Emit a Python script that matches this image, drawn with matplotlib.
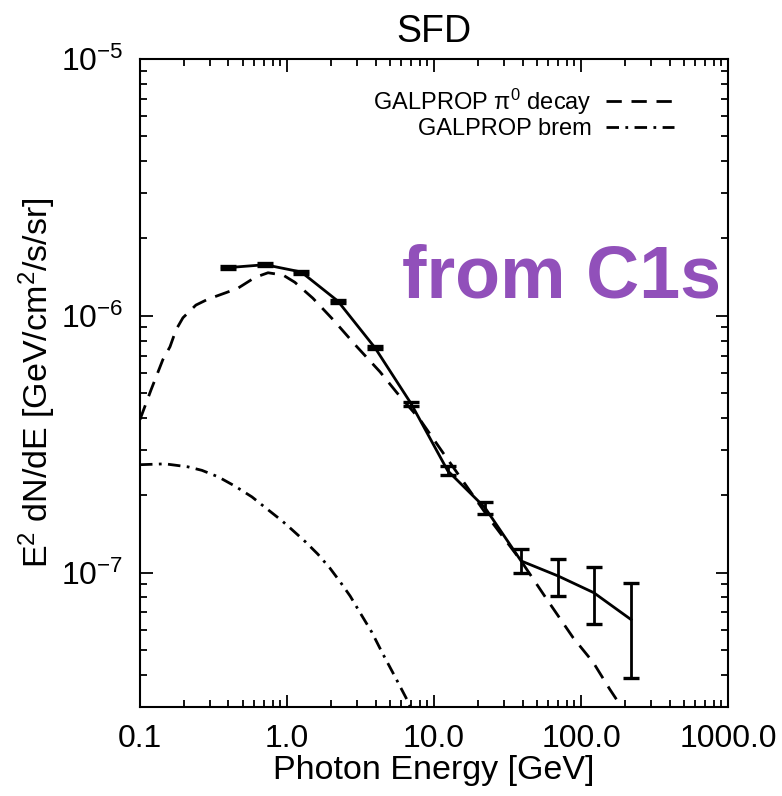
import matplotlib
matplotlib.use("Agg")
import matplotlib.pyplot as plt
from matplotlib.ticker import LogLocator, FixedLocator, FixedFormatter, NullFormatter

plt.rcParams["font.family"] = ["Liberation Sans", "DejaVu Sans"]
plt.rcParams["mathtext.fontset"] = "custom"
plt.rcParams["mathtext.rm"] = "Liberation Sans"
plt.rcParams["mathtext.it"] = "Liberation Sans:italic"
plt.rcParams["mathtext.default"] = "regular"
plt.rcParams["axes.unicode_minus"] = False

# measured spectrum
energy = [0.40, 0.71, 1.25, 2.22, 3.97, 6.98, 12.4, 22.2, 39.1, 69.8, 122, 219]
flux = [1.54e-6, 1.58e-6, 1.48e-6, 1.14e-6, 7.5e-7, 4.55e-7, 2.49e-7, 1.79e-7,
        1.11e-7, 9.7e-8, 8.35e-8, 6.56e-8]
flux_hi = [1.56e-6, 1.60e-6, 1.50e-6, 1.155e-6, 7.6e-7, 4.63e-7, 2.59e-7, 1.89e-7,
           1.24e-7, 1.13e-7, 1.05e-7, 9.14e-8]
flux_lo = [1.52e-6, 1.56e-6, 1.46e-6, 1.125e-6, 7.4e-7, 4.47e-7, 2.39e-7, 1.69e-7,
           1.00e-7, 8.14e-8, 6.28e-8, 3.87e-8]

# GALPROP pi0 decay model
pi0_e = [0.1, 0.119, 0.143, 0.160, 0.176, 0.196, 0.240, 0.290, 0.385, 0.464,
         0.606, 0.743, 0.94, 1.13, 1.50, 2.06, 2.99, 4.29, 5.60, 8.03, 11.5,
         15.5, 24.0, 39.1, 58.7, 88.3, 121, 157, 184, 220]
pi0_f = [3.94e-7, 5.15e-7, 6.74e-7, 7.57e-7, 8.82e-7, 9.82e-7, 1.10e-6, 1.16e-6,
         1.23e-6, 1.28e-6, 1.41e-6, 1.47e-6, 1.44e-6, 1.35e-6, 1.17e-6, 9.65e-7,
         7.57e-7, 6.05e-7, 5.01e-7, 3.94e-7, 2.93e-7, 2.30e-7, 1.61e-7, 1.11e-7,
         7.85e-8, 5.58e-8, 4.47e-8, 3.51e-8, 3.06e-8, 2.4e-8]

# GALPROP bremsstrahlung model
brem_e = [0.1, 0.148, 0.212, 0.264, 0.340, 0.443, 0.578, 0.687, 0.925, 1.08,
          1.33, 1.62, 1.96, 2.30, 2.69, 3.14, 3.78, 4.43, 5.43, 6.55, 7.78]
brem_f = [2.63e-7, 2.65e-7, 2.58e-7, 2.50e-7, 2.36e-7, 2.17e-7, 1.97e-7, 1.82e-7,
          1.59e-7, 1.47e-7, 1.32e-7, 1.18e-7, 1.04e-7, 9.2e-8, 8.1e-8, 6.98e-8,
          5.85e-8, 4.89e-8, 3.93e-8, 3.20e-8, 2.57e-8]

xticks = [0.1, 1, 10, 100, 1000]
xtick_labels = ["0.1", "1.0", "10.0", "100.0", "1000.0"]

fig = plt.figure(figsize=(7.82, 7.96), dpi=100)
ax = fig.add_axes([0.179, 0.112, 0.752, 0.814])

lw = 2.0
ax.plot(pi0_e, pi0_f, color="black", lw=lw, dashes=(5.5, 3.5),
        label=r"GALPROP $\pi^0$ decay")
ax.plot(brem_e, brem_f, color="black", lw=lw, dashes=(4.5, 2.3, 1, 2.3),
        label="GALPROP brem")

yerr = [[f - lo for f, lo in zip(flux, flux_lo)],
        [hi - f for f, hi in zip(flux, flux_hi)]]
ax.errorbar(energy, flux, yerr=yerr, color="black", lw=lw, elinewidth=lw,
            capsize=5.8, capthick=2.4)

ax.set_xscale("log")
ax.set_yscale("log")
ax.set_xlim(0.1, 1000)
ax.set_ylim(3e-8, 1e-5)

ax.xaxis.set_major_locator(FixedLocator(xticks))
ax.xaxis.set_major_formatter(FixedFormatter(xtick_labels))
ax.xaxis.set_minor_locator(LogLocator(base=10, subs=range(2, 10)))
ax.xaxis.set_minor_formatter(NullFormatter())
ax.yaxis.set_minor_locator(LogLocator(base=10, subs=range(2, 10)))
ax.yaxis.set_minor_formatter(NullFormatter())

ax.tick_params(which="both", direction="in", top=True, right=True, width=1.3)
ax.tick_params(which="major", length=9, labelsize=23)
ax.tick_params(which="minor", length=5)
ax.tick_params(axis="x", which="major", pad=12)
ax.tick_params(axis="y", which="major", pad=12)
for sp in ax.spines.values():
    sp.set_linewidth(1.5)

ax.set_xlabel("Photon Energy [GeV]", fontsize=24.5, labelpad=1)
ax.set_ylabel(r"E$^2$ dN/dE [GeV/cm$^2$/s/sr]", fontsize=24.5, labelpad=2)
ax.set_title("SFD", fontsize=27, pad=12)

ax.legend(loc="upper right", bbox_to_anchor=(0.945, 0.99), frameon=False,
          markerfirst=False, fontsize=17, handlelength=2.9, handletextpad=0.6,
          labelspacing=0.05)

ax.text(0.446, 0.631, "from C1s", transform=ax.transAxes, fontsize=53,
        fontweight="bold", color="#9150ba", ha="left", va="baseline")

fig.savefig("out.png", dpi=100)
